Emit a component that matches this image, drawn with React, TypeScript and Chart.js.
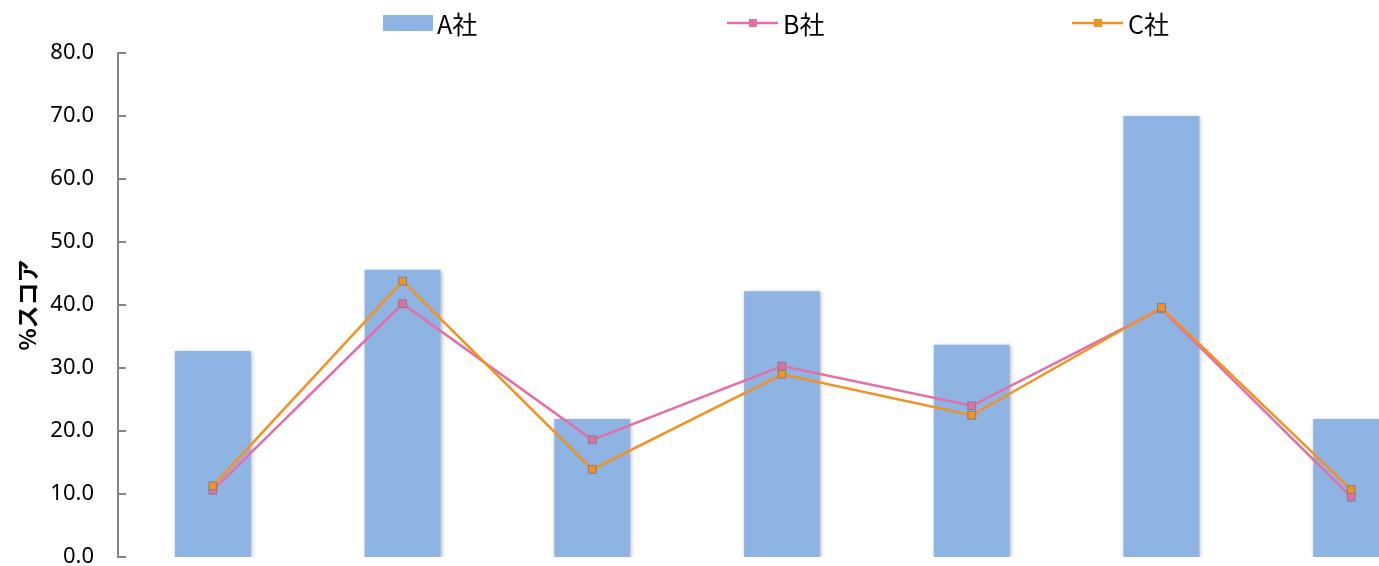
import React, { useEffect, useRef } from "react";
import { Chart, registerables } from "chart.js";

Chart.register(...registerables);

const categories = ["1", "2", "3", "4", "5", "6", "7"];
const seriesA = [32.7, 45.6, 21.9, 42.2, 33.7, 70.0, 21.9];
const seriesB = [10.6, 40.2, 18.6, 30.3, 24.0, 39.4, 9.5];
const seriesC = [11.3, 43.8, 13.9, 29.0, 22.5, 39.6, 10.7];
const yTicks = [0, 10, 20, 30, 40, 50, 60, 70, 80];
const seriesNames = ["A社", "B社", "C社"];

const COLOR_A = "#8EB4E3";
const COLOR_B = "#E46FA8";
const COLOR_C = "#F39222";
const AXIS = "#868686";

const CANVAS_W = 1460;
const CANVAS_H = 566;

export default function App() {
  const ref = useRef<HTMLCanvasElement | null>(null);

  useEffect(() => {
    const canvas = ref.current;
    if (!canvas) return;

    const shadowPlugin = {
      id: "barShadow",
      beforeDatasetDraw(chart: any, args: any) {
        const ctx = chart.ctx;
        ctx.save();
        if (args.index === 0) {
          ctx.shadowColor = "rgba(0,0,0,0.28)";
          ctx.shadowBlur = 4;
          ctx.shadowOffsetX = 1;
          ctx.shadowOffsetY = 1;
        }
      },
      afterDatasetDraw(chart: any) {
        chart.ctx.restore();
      },
    };

    const axisTicksPlugin = {
      id: "axisTicks",
      afterDraw(chart: any) {
        const ctx = chart.ctx;
        const y = chart.scales.y;
        const left = chart.chartArea.left;
        ctx.save();
        ctx.strokeStyle = AXIS;
        ctx.lineWidth = 2;
        yTicks.forEach((v) => {
          const py = Math.round(y.getPixelForValue(v));
          ctx.beginPath();
          ctx.moveTo(left - 1, py);
          ctx.lineTo(left + 8, py);
          ctx.stroke();
        });
        ctx.restore();
      },
    };

    const legendPlugin = {
      id: "customLegend",
      afterDraw(chart: any) {
        const ctx = chart.ctx;
        ctx.save();
        const cy = 23;
        ctx.font = '25px "Noto Sans CJK JP", "Noto Sans", sans-serif';
        ctx.textBaseline = "middle";
        ctx.fillStyle = COLOR_A;
        ctx.fillRect(383, 15, 50, 16);
        ctx.fillStyle = "#000";
        ctx.fillText(seriesNames[0], 437, cy + 1);
        const items = [
          { x: 727, color: COLOR_B, name: seriesNames[1] },
          { x: 1072, color: COLOR_C, name: seriesNames[2] },
        ];
        items.forEach((it) => {
          ctx.strokeStyle = it.color;
          ctx.lineWidth = 2.5;
          ctx.beginPath();
          ctx.moveTo(it.x, cy);
          ctx.lineTo(it.x + 51, cy);
          ctx.stroke();
          ctx.fillStyle = it.color;
          ctx.fillRect(it.x + 22, cy - 4, 8, 8);
          ctx.fillStyle = "#000";
          ctx.fillText(it.name, it.x + 56, cy + 1);
        });
        ctx.restore();
      },
    };

    const lineCommon = {
      type: "line" as const,
      borderWidth: 2.5,
      tension: 0,
      pointStyle: "rect" as const,
      pointRadius: 5.5,
      pointBorderColor: "#7F7F7F",
      pointBorderWidth: 1,
      fill: false,
    };

    const chart = new Chart(canvas, {
      type: "bar",
      data: {
        labels: categories,
        datasets: [
          {
            type: "bar",
            label: seriesNames[0],
            data: seriesA,
            backgroundColor: COLOR_A,
            borderWidth: 0,
            barPercentage: 0.4,
            categoryPercentage: 1,
            order: 2,
          } as any,
          {
            ...lineCommon,
            label: seriesNames[1],
            data: seriesB,
            borderColor: COLOR_B,
            backgroundColor: COLOR_B,
            pointBackgroundColor: COLOR_B,
            order: 1,
          } as any,
          {
            ...lineCommon,
            label: seriesNames[2],
            data: seriesC,
            borderColor: COLOR_C,
            backgroundColor: COLOR_C,
            pointBackgroundColor: COLOR_C,
            order: 0,
          } as any,
        ],
      },
      options: {
        responsive: false,
        animation: false,
        devicePixelRatio: 1,
        layout: { padding: { top: 53, bottom: 9, left: 0, right: 14 } },
        plugins: {
          legend: { display: false },
          tooltip: { enabled: false },
        },
        scales: {
          x: {
            display: false,
            offset: true,
            grid: { display: false },
          },
          y: {
            min: 0,
            max: 80,
            afterFit(scale: any) {
              scale.width = 118;
              scale.paddingTop = 0;
              scale.paddingBottom = 0;
            },
            afterBuildTicks(scale: any) {
              scale.ticks = yTicks.map((v) => ({ value: v }));
            },
            border: { display: true, color: AXIS, width: 2 },
            grid: { display: false, drawTicks: false },
            ticks: {
              color: "#000",
              padding: 24,
              font: { family: '"Noto Sans", sans-serif', size: 22 },
              callback: (v: any) => Number(v).toFixed(1),
            },
            title: {
              display: true,
              text: "%スコア",
              color: "#000",
              font: { family: '"Noto Sans CJK JP", sans-serif', size: 23, weight: "bold" },
              padding: { top: 13, bottom: 0 },
            },
          },
        },
      },
      plugins: [shadowPlugin, axisTicksPlugin, legendPlugin],
    });

    return () => chart.destroy();
  }, []);

  return (
    <div
      style={{
        position: "fixed",
        left: 0,
        top: 0,
        width: 1379,
        height: 566,
        overflow: "hidden",
        background: "#fff",
      }}
    >
      <canvas
        ref={ref}
        width={CANVAS_W}
        height={CANVAS_H}
        style={{ width: CANVAS_W, height: CANVAS_H, display: "block" }}
      />
    </div>
  );
}
